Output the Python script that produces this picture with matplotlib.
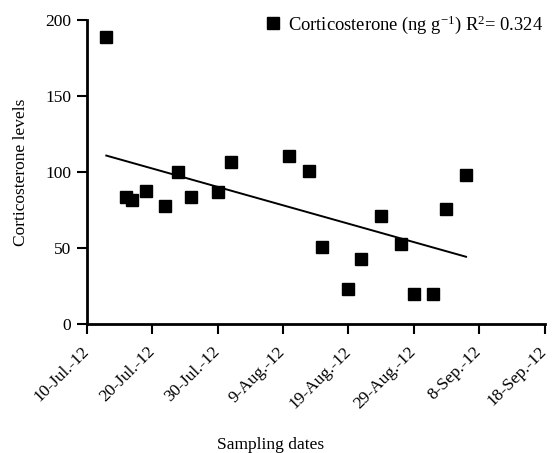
import numpy as np
import pandas as pd
import matplotlib
matplotlib.use("Agg")
import matplotlib.pyplot as plt
import matplotlib.dates as mdates

plt.rcParams['font.family'] = ['Liberation Serif', 'DejaVu Serif']
plt.rcParams['mathtext.fontset'] = 'custom'
plt.rcParams['mathtext.rm'] = 'Liberation Serif'
plt.rcParams['mathtext.it'] = 'Liberation Serif:italic'

# Data
sample_dates = ["2012-07-13", "2012-07-16", "2012-07-17", "2012-07-19", "2012-07-22",
                "2012-07-24", "2012-07-26", "2012-07-30", "2012-08-01", "2012-08-10",
                "2012-08-13", "2012-08-15", "2012-08-19", "2012-08-21", "2012-08-24",
                "2012-08-27", "2012-08-29", "2012-09-01", "2012-09-03", "2012-09-06"]
corticosterone = [189, 84, 82, 88, 78, 100, 84, 87, 107, 111,
                  101, 51, 23, 43, 71, 53, 20, 20, 76, 98]
tick_dates = ["2012-07-10", "2012-07-20", "2012-07-30", "2012-08-09",
              "2012-08-19", "2012-08-29", "2012-09-08", "2012-09-18"]
tick_labels = ["10-Jul.-12", "20-Jul.-12", "30-Jul.-12", "9-Aug.-12",
               "19-Aug.-12", "29-Aug.-12", "8-Sep.-12", "18-Sep.-12"]
y_ticks = [0, 50, 100, 150, 200]
legend_label = r"Corticosterone (ng g$^{-1}$) R$^{2}$= 0.324"

dates = pd.to_datetime(sample_dates)
ticks = pd.to_datetime(tick_dates)
xnum = mdates.date2num(dates)

fig = plt.figure(figsize=(5.54, 4.53), dpi=100)
ax = fig.add_axes([0.1565, 0.284, 0.8264, 0.671])

ax.plot(dates, corticosterone, linestyle='none', marker='s', markersize=8,
        color='black', label=legend_label)

coef = np.polyfit(xnum, corticosterone, 1)
xl = np.array([xnum.min(), xnum.max()])
ax.plot(mdates.num2date(xl), np.polyval(coef, xl), color='black', lw=1.4)

ax.set_xlim(ticks[0], ticks[-1])
ax.set_ylim(0, 200)
ax.set_xticks(ticks)
ax.set_xticklabels(tick_labels, rotation=45, ha='right', va='center',
                   rotation_mode='anchor')
ax.set_yticks(y_ticks)
ax.tick_params(axis='both', direction='out', length=7, width=1.5, labelsize=12.5, pad=4)
ax.tick_params(axis='x', pad=11)

for s in ['top', 'right']:
    ax.spines[s].set_visible(False)
for s in ['left', 'bottom']:
    ax.spines[s].set_linewidth(2)

ax.set_ylabel("Corticosterone levels", fontsize=12.5, labelpad=12)
fig.text(271/554, 1 - 445/453, "Sampling dates", ha='center', va='center', fontsize=12.5)

leg = ax.legend(loc='upper right', bbox_to_anchor=(1.005, 1.035), frameon=False,
                fontsize=13.3, handlelength=0.6, handletextpad=0.5, borderaxespad=0,
                borderpad=0.2, markerscale=1.1)

fig.savefig("out.png", dpi=100)
